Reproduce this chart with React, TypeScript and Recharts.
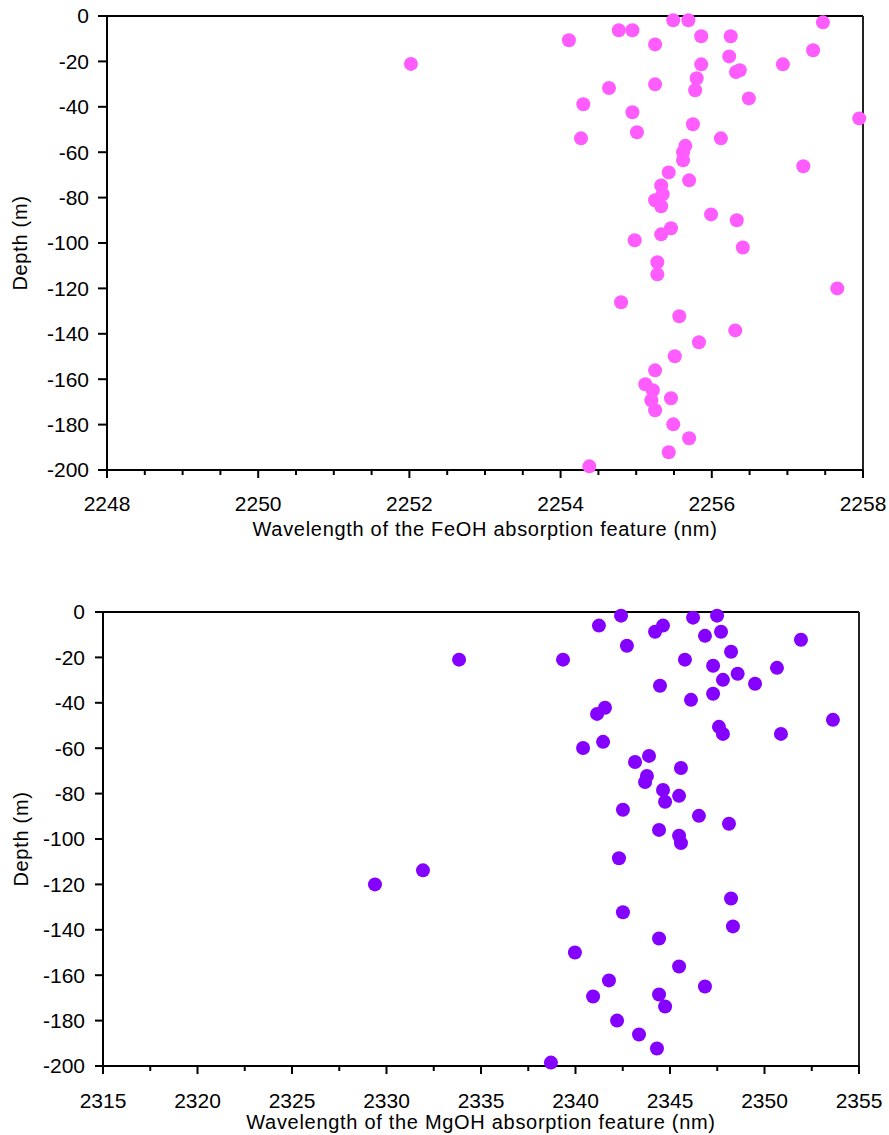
import { ScatterChart, Scatter, XAxis, YAxis, ReferenceLine } from 'recharts';

// FeOH feature: wavelength (nm) and depth (m)
const feohWavelength = [
  2255.49, 2255.69, 2257.47, 2254.77, 2254.95, 2255.86, 2256.25, 2254.11, 2255.25, 2257.34,
  2256.23, 2252.02, 2255.86, 2256.94, 2256.37, 2256.32, 2255.8, 2255.25, 2254.64, 2255.78,
  2256.49, 2254.3, 2254.95, 2257.95, 2255.75, 2255.01, 2254.27, 2256.12, 2255.65, 2255.62,
  2255.62, 2257.21, 2255.43, 2255.7, 2255.33, 2255.35, 2255.25, 2255.33, 2255.99, 2256.33,
  2255.46, 2255.33, 2254.98, 2256.41, 2255.28, 2255.28, 2257.66, 2254.8, 2255.57, 2256.31,
  2255.83, 2255.51, 2255.25, 2255.12, 2255.22, 2255.46, 2255.2, 2255.25, 2255.49, 2255.7,
  2255.43, 2254.38,
];
const feohDepth = [
  -1.9, -1.9, -2.8, -6.3, -6.3, -8.9, -8.9, -10.7, -12.5, -15.1,
  -17.8, -21.1, -21.3, -21.3, -23.9, -24.7, -27.4, -30.1, -31.7, -32.7,
  -36.3, -38.9, -42.4, -45.1, -47.7, -51.2, -53.9, -53.9, -57.2, -60,
  -63.6, -66.2, -68.9, -72.4, -74.7, -78.5, -81.2, -83.8, -87.4, -90,
  -93.5, -96.2, -98.8, -102, -108.5, -113.8, -120, -126.1, -132.3, -138.5,
  -143.7, -149.9, -156.1, -162.2, -164.9, -168.4, -169.3, -173.7, -179.9, -186,
  -192.2, -198.4,
];

// MgOH feature
const mgohWavelength = [
  2342.41, 2347.49, 2346.22, 2341.24, 2344.63, 2344.21, 2347.7, 2346.85, 2351.93, 2342.72,
  2348.23, 2333.84, 2339.34, 2345.79, 2347.28, 2350.66, 2348.58, 2347.8, 2349.5, 2344.47,
  2347.28, 2346.11, 2341.56, 2341.14, 2353.62, 2347.59, 2347.8, 2350.87, 2341.46, 2340.4,
  2343.89, 2343.15, 2345.58, 2343.78, 2343.68, 2344.63, 2345.48, 2344.74, 2342.51, 2346.53,
  2348.12, 2344.42, 2345.48, 2345.58, 2342.3, 2331.93, 2329.39, 2348.23, 2342.51, 2348.33,
  2344.42, 2339.97, 2345.48, 2341.77, 2346.85, 2344.42, 2340.93, 2344.74, 2342.2, 2343.36,
  2344.31, 2338.7,
];
const mgohDepth = [
  -1.6, -1.6, -2.5, -6, -6, -8.7, -8.7, -10.5, -12.2, -14.9,
  -17.5, -21, -21, -21, -23.7, -24.6, -27.2, -29.9, -31.6, -32.5,
  -36, -38.7, -42.2, -44.9, -47.5, -50.6, -53.7, -53.7, -57.2, -59.9,
  -63.4, -66.1, -68.7, -72.2, -74.9, -78.4, -81, -83.6, -87.1, -89.8,
  -93.3, -96, -98.6, -101.8, -108.5, -113.8, -120, -126.2, -132.3, -138.5,
  -143.8, -150, -156.2, -162.3, -165, -168.5, -169.4, -173.8, -180, -186.1,
  -192.3, -198.5,
];

const depthTicks = [0, -20, -40, -60, -80, -100, -120, -140, -160, -180, -200];
const feohTicks = [
  2248, 2248.5, 2249, 2249.5, 2250, 2250.5, 2251, 2251.5, 2252, 2252.5, 2253,
  2253.5, 2254, 2254.5, 2255, 2255.5, 2256, 2256.5, 2257, 2257.5, 2258,
];
const feohLabels = [2248, 2250, 2252, 2254, 2256, 2258];
const mgohTicks = [
  2315, 2317.5, 2320, 2322.5, 2325, 2327.5, 2330, 2332.5, 2335,
  2337.5, 2340, 2342.5, 2345, 2347.5, 2350, 2352.5, 2355,
];
const mgohLabels = [2315, 2320, 2325, 2330, 2335, 2340, 2345, 2350, 2355];

const feohData = feohWavelength.map((w, i) => ({ w, d: feohDepth[i] }));
const mgohData = mgohWavelength.map((w, i) => ({ w, d: mgohDepth[i] }));

const FONT = '"Liberation Sans", Arial, sans-serif';
const tickFont = { fill: '#000', fontSize: 21, fontFamily: FONT };

// x tick: long tick + label on the labelled values, short tick otherwise
const makeXTick = (labels: number[], gap: number) => (props: any) => {
  const { x, y, payload } = props;
  const major = labels.includes(payload.value);
  const top = y - gap;
  return (
    <g>
      <line x1={x} x2={x} y1={top} y2={top + (major ? 8 : 5)} stroke="#000" strokeWidth={2} />
      {major && (
        <text x={x} y={y} dy="0.71em" textAnchor="middle" fill="#000" fontSize={21} fontFamily={FONT}>
          {payload.value}
        </text>
      )}
    </g>
  );
};

const Dot = (color: string) => (props: any) => {
  const { cx, cy } = props;
  if (cx == null || cy == null) return null;
  return <circle cx={cx} cy={cy} r={7} fill={color} />;
};

const titleStyle = { fill: '#000', fontSize: 20, fontFamily: FONT, letterSpacing: 0.7 };

export default function App() {
  return (
    <div style={{ position: 'absolute', left: 0, top: 0, width: 889, height: 1135, background: '#fff' }}>
      <div style={{ position: 'absolute', left: 0, top: 0 }}>
        <ScatterChart width={889} height={545} margin={{ top: 16, right: 26, bottom: 0, left: 0 }}>
          <XAxis
            type="number"
            dataKey="w"
            domain={[2248, 2258]}
            ticks={feohTicks}
            interval={0}
            height={75}
            tickSize={8}
            tickMargin={18}
            tickLine={false}
            axisLine={{ stroke: '#000', strokeWidth: 2 }}
            tick={makeXTick(feohLabels, 26)}
            label={{ value: 'Wavelength of the FeOH absorption feature (nm)', position: 'insideBottom', offset: 9, style: titleStyle }}
          />
          <YAxis
            type="number"
            dataKey="d"
            domain={[-200, 0]}
            ticks={depthTicks}
            interval={0}
            width={107}
            tickSize={9}
            tickMargin={9}
            tickLine={{ stroke: '#000', strokeWidth: 2 }}
            axisLine={{ stroke: '#000', strokeWidth: 2 }}
            tick={tickFont}
            label={{ value: 'Depth (m)', angle: -90, position: 'insideLeft', offset: 20, style: { ...titleStyle, textAnchor: 'middle' } }}
          />
          <ReferenceLine y={0} stroke="#000" strokeWidth={2} />
          <ReferenceLine x={2258} stroke="#222" strokeWidth={2} />
          <Scatter data={feohData} fill="#FF5CFF" shape={Dot('#FF5CFF')} isAnimationActive={false} />
        </ScatterChart>
      </div>
      <div style={{ position: 'absolute', left: 0, top: 545 }}>
        <ScatterChart width={889} height={590} margin={{ top: 67, right: 30, bottom: 0, left: 0 }}>
          <XAxis
            type="number"
            dataKey="w"
            domain={[2315, 2355]}
            ticks={mgohTicks}
            interval={0}
            height={69}
            tickSize={8}
            tickMargin={19}
            tickLine={false}
            axisLine={{ stroke: '#000', strokeWidth: 2 }}
            tick={makeXTick(mgohLabels, 27)}
            label={{ value: 'Wavelength of the MgOH absorption feature (nm)', position: 'insideBottom', offset: 6, style: titleStyle }}
          />
          <YAxis
            type="number"
            dataKey="d"
            domain={[-200, 0]}
            ticks={depthTicks}
            interval={0}
            width={103}
            tickSize={8}
            tickMargin={10}
            tickLine={{ stroke: '#000', strokeWidth: 2 }}
            axisLine={{ stroke: '#000', strokeWidth: 2 }}
            tick={tickFont}
            label={{ value: 'Depth (m)', angle: -90, position: 'insideLeft', offset: 21, style: { ...titleStyle, textAnchor: 'middle' } }}
          />
          <ReferenceLine y={0} stroke="#000" strokeWidth={2} />
          <ReferenceLine x={2355} stroke="#222" strokeWidth={2} />
          <Scatter data={mgohData} fill="#8400FF" shape={Dot('#8400FF')} isAnimationActive={false} />
        </ScatterChart>
      </div>
    </div>
  );
}
